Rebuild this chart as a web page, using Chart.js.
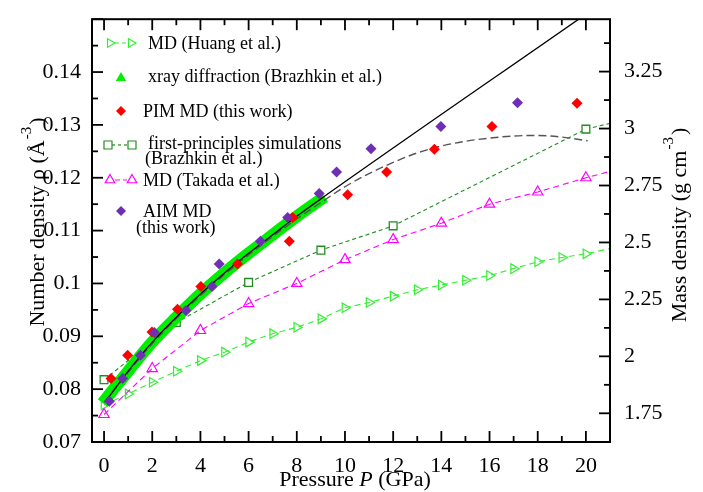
<!DOCTYPE html>
<html>
<head>
<meta charset="utf-8">
<script src="https://cdn.jsdelivr.net/npm/chart.js@4.4.0/dist/chart.umd.min.js"></script>
<style>
  html, body { margin: 0; padding: 0; background: #fff; }
  .fontwarm { position: absolute; left: -999px; top: 0; font-family: "Liberation Serif"; font-size: 22px; }
  .fontwarm i { font-style: italic; }
</style>
</head>
<body>
<span class="fontwarm">Pressure <i>P</i> 0.1</span>
<canvas id="chart" width="703" height="492"></canvas>
<script>
// pressure (GPa) / number density (A^-3)
const huangP = [0,1,2,3,4,5,6,7,8,9,10,11,12,13,14,15,16,17,18,19,20];
const huangRho = [0.0770,0.0791,0.0813,0.0834,0.0854,0.0870,0.0889,0.0905,0.0917,0.0933,0.0954,
  0.0964,0.0976,0.0988,0.0997,0.1006,0.1015,0.1028,0.1041,0.1049,0.1056];
const huangEdge = [21, 0.1066];

const xrayP = [-0.06,1,2,3,4,5,6,7,8,9.15];
const xrayRho = [0.0774,0.0834,0.0889,0.0936,0.0980,0.1020,0.1057,0.1092,0.1127,0.1164];

const pimP = [0.29,0.98,1.99,3.05,4.02,5.54,7.69,7.83,10.11,11.73,13.71,16.1,19.63];
const pimRho = [0.0820,0.0864,0.0908,0.0951,0.0994,0.1037,0.1080,0.1125,0.1168,0.1211,0.1254,0.1297,0.1341];

const fpP = [0,3,6,9,12,20];
const fpRho = [0.0818,0.0926,0.1002,0.1063,0.1109,0.1292];
const fpEdge = [21, 0.1303];

const takadaP = [0,2,4,6,8,10,12,14,16,18,20];
const takadaRho = [0.0752,0.0839,0.0911,0.0962,0.1000,0.1045,0.1083,0.1114,0.1150,0.1173,0.1200];
const takadaEdge = [21, 0.1212];

const aimP = [0.22,0.77,1.51,2.09,3.4,4.48,4.78,6.49,7.62,8.93,9.65,11.08,13.98,17.16];
const aimRho = [0.0777,0.0820,0.0864,0.0907,0.0949,0.0994,0.1037,0.1080,0.1125,0.1170,0.1211,0.1255,0.1297,0.1342];

const fitP = [0.1,1,2,3,4,5,6,7,8,9,19.7];
const fitRho = [0.0779,0.0834,0.0889,0.0936,0.0980,0.1020,0.1057,0.1092,0.1127,0.1160,0.1500];

const eosP = [0,2,4,6,8,9,10,11,12,13,14,15,16,17,18,19,20.07];
const eosRho = [0.0775,0.0886,0.0977,0.1054,0.1122,0.1153,0.1183,0.1208,0.1229,0.1247,0.1260,0.1269,0.1275,0.1279,0.1280,0.1277,0.1270];

const xTicks = [0,1,2,3,4,5,6,7,8,9,10,11,12,13,14,15,16,17,18,19,20,21];
const rhoTicks = [0.07,0.075,0.08,0.085,0.09,0.095,0.1,0.105,0.11,0.115,0.12,0.125,0.13,0.135,0.14,0.145,0.15];
const massTicks = [1.75,1.875,2,2.125,2.25,2.375,2.5,2.625,2.75,2.875,3,3.125,3.25,3.375];
const massFactor = 23.2; // g cm^-3 per A^-3

const pts = (xs, ys, extra) => {
  const d = xs.map((x, i) => ({ x, y: ys[i] }));
  if (extra) d.push({ x: extra[0], y: extra[1] });
  return d;
};

const SERIF = '"Liberation Serif", "Times New Roman", serif';
const C = {
  huang: '#33ee33', xray: '#00ee00', pim: '#ff0000', fp: '#1f8f1f',
  takada: '#ff00ff', aim: '#6f2fb5', fit: '#000000', eos: '#555555'
};
const clear = 'rgba(0,0,0,0)';

function marker(ctx, kind, x, y, r, color, filled) {
  ctx.save();
  ctx.beginPath();
  if (kind === 'tri' || kind === 'triR') {
    const rot = kind === 'triR' ? Math.PI / 2 : 0;
    for (let k = 0; k < 3; k++) {
      const a = rot + k * 2 * Math.PI / 3;
      const px = x + Math.sin(a) * r, py = y - Math.cos(a) * r;
      k ? ctx.lineTo(px, py) : ctx.moveTo(px, py);
    }
    ctx.closePath();
  } else if (kind === 'dia') {
    ctx.moveTo(x - r, y); ctx.lineTo(x, y - r); ctx.lineTo(x + r, y); ctx.lineTo(x, y + r); ctx.closePath();
  } else if (kind === 'sq') {
    ctx.rect(x - r, y - r, 2 * r, 2 * r);
  }
  if (filled) { ctx.fillStyle = color; ctx.fill(); }
  else { ctx.strokeStyle = color; ctx.lineWidth = 1.2; ctx.stroke(); }
  ctx.restore();
}

function dashSeg(ctx, x1, x2, y, color, dash) {
  ctx.save();
  ctx.strokeStyle = color; ctx.lineWidth = 1.2; ctx.setLineDash(dash);
  ctx.beginPath(); ctx.moveTo(x1, y); ctx.lineTo(x2, y); ctx.stroke();
  ctx.restore();
}

const decor = {
  id: 'decor',
  afterDraw(chart) {
    const { ctx, chartArea: a, scales } = chart;
    ctx.save();
    // frame
    ctx.strokeStyle = '#000'; ctx.lineWidth = 2;
    ctx.strokeRect(a.left, a.top, a.right - a.left, a.bottom - a.top);
    ctx.lineWidth = 1.8;
    const seg = (x1, y1, x2, y2) => { ctx.beginPath(); ctx.moveTo(x1, y1); ctx.lineTo(x2, y2); ctx.stroke(); };
    // inward ticks
    scales.x.ticks.forEach(t => {
      const p = scales.x.getPixelForValue(t.value);
      const len = t.value % 2 === 0 ? 11 : 6;
      seg(p, a.bottom, p, a.bottom - len);
      seg(p, a.top, p, a.top + len);
    });
    scales.y.ticks.forEach(t => {
      const p = scales.y.getPixelForValue(t.value);
      const len = Math.round(t.value * 1000) % 10 === 0 ? 11 : 6;
      seg(a.left, p, a.left + len, p);
    });
    scales.y2.ticks.forEach(t => {
      const p = scales.y2.getPixelForValue(t.value);
      const len = Math.round(t.value * 1000) % 250 === 0 ? 11 : 6;
      seg(a.right, p, a.right - len, p);
    });

    // axis titles
    ctx.fillStyle = '#000';
    ctx.textBaseline = 'alphabetic';
    ctx.textAlign = 'left';
    const t1 = 'Pressure ', t3 = ' (GPa)';
    ctx.font = '22px ' + SERIF; const w1 = ctx.measureText(t1).width, w3 = ctx.measureText(t3).width;
    ctx.font = 'italic 22px ' + SERIF; const w2 = ctx.measureText('P').width;
    const x0 = 355 - (w1 + w2 + w3) / 2;
    ctx.font = '22px ' + SERIF; ctx.fillText(t1, x0, 486);
    ctx.font = 'italic 22px ' + SERIF; ctx.fillText('P', x0 + w1, 486);
    ctx.font = '22px ' + SERIF; ctx.fillText(t3, x0 + w1 + w2, 486);

    const vTitle = (cx, cy, main, sup) => {
      ctx.save();
      ctx.translate(cx, cy); ctx.rotate(-Math.PI / 2);
      ctx.font = '22px ' + SERIF; const wm = ctx.measureText(main).width, wc = ctx.measureText(')').width;
      ctx.font = '15px ' + SERIF; const ws = ctx.measureText(sup).width;
      const x = -(wm + ws + wc + 3) / 2;
      ctx.font = '22px ' + SERIF; ctx.fillText(main, x, 8);
      ctx.font = '15px ' + SERIF; ctx.fillText(sup, x + wm + 1, -5);
      ctx.font = '22px ' + SERIF; ctx.fillText(')', x + wm + ws + 3, 8);
      ctx.restore();
    };
    vTitle(36, 222, 'Number density \u03c1 (\u00c5', '-3');
    vTitle(678, 225, 'Mass density (g cm', '-3');

    // legend
    ctx.font = '18px ' + SERIF;
    dashSeg(ctx, 115, 127, 43, C.huang, [4, 3]);
    marker(ctx, 'triR', 110, 43, 5, C.huang, false);
    marker(ctx, 'triR', 131, 43, 5, C.huang, false);
    ctx.fillText('MD (Huang et al.)', 148, 49);

    marker(ctx, 'tri', 121, 78, 6, C.xray, true);
    ctx.fillText('xray diffraction (Brazhkin et al.)', 148, 82);

    marker(ctx, 'dia', 121, 111, 5, C.pim, true);
    ctx.fillText('PIM MD (this work)', 143, 117);

    dashSeg(ctx, 112, 128, 145, C.fp, [3, 3]);
    marker(ctx, 'sq', 108, 145, 4, C.fp, false);
    marker(ctx, 'sq', 132, 145, 4, C.fp, false);
    ctx.fillText('first-principles simulations', 148, 149);
    ctx.fillText('(Brazhkin et al.)', 145, 164);

    dashSeg(ctx, 115, 127, 180, C.takada, [5, 3]);
    marker(ctx, 'tri', 110, 180, 5.5, C.takada, false);
    marker(ctx, 'tri', 132, 180, 5.5, C.takada, false);
    ctx.fillText('MD (Takada et al.)', 143, 186);

    marker(ctx, 'dia', 121, 211, 5, C.aim, true);
    ctx.fillText('AIM MD', 143, 217);
    ctx.fillText('(this work)', 136, 233);
    ctx.restore();
  }
};

function build() {
  new Chart(document.getElementById('chart'), {
    type: 'scatter',
    data: {
      datasets: [
        { label: 'AIM MD (this work)', data: pts(aimP, aimRho), pointStyle: 'rectRot', pointRadius: 5.5,
          backgroundColor: C.aim, borderColor: C.aim, borderWidth: 0, showLine: false },
        { label: 'PIM MD (this work)', data: pts(pimP, pimRho), pointStyle: 'rectRot', pointRadius: 5.5,
          backgroundColor: C.pim, borderColor: C.pim, borderWidth: 0, showLine: false },
        { label: 'fit', data: pts(fitP, fitRho), showLine: true, borderColor: C.fit, borderWidth: 1.3,
          pointRadius: 0, cubicInterpolationMode: 'monotone' },
        { label: 'eos', data: pts(eosP, eosRho), showLine: true, borderColor: C.eos, borderWidth: 1.4,
          borderDash: [8, 4], pointRadius: 0, cubicInterpolationMode: 'monotone' },
        { label: 'xray diffraction (Brazhkin et al.)', data: pts(xrayP, xrayRho), showLine: true,
          borderColor: C.xray, borderWidth: 12, pointRadius: 0, cubicInterpolationMode: 'monotone' },
        { label: 'first-principles simulations (Brazhkin et al.)', data: pts(fpP, fpRho, fpEdge), showLine: true,
          borderColor: C.fp, borderWidth: 1.1, borderDash: [4, 3], pointStyle: 'rect',
          pointRadius: ctx => ctx.dataIndex < fpP.length ? 5.5 : 0,
          backgroundColor: '#fff', pointBorderWidth: 1.3 },
        { label: 'MD (Takada et al.)', data: pts(takadaP, takadaRho, takadaEdge), showLine: true,
          borderColor: C.takada, borderWidth: 1.1, borderDash: [6, 4], pointStyle: 'triangle',
          pointRadius: ctx => ctx.dataIndex < takadaP.length ? 6 : 0,
          backgroundColor: clear, pointBorderWidth: 1.2 },
        { label: 'MD (Huang et al.)', data: pts(huangP, huangRho, huangEdge), showLine: true,
          borderColor: C.huang, borderWidth: 1.1, borderDash: [6, 4], pointStyle: 'triangle', rotation: 90,
          pointRadius: ctx => ctx.dataIndex < huangP.length ? 5.5 : 0,
          backgroundColor: clear, pointBorderWidth: 1.2 }
      ]
    },
    options: {
      responsive: false,
      animation: false,
      layout: { padding: { top: 8, left: 0, right: 0, bottom: 0 } },
      plugins: { legend: { display: false }, tooltip: { enabled: false } },
      scales: {
        x: {
          type: 'linear', min: -0.5, max: 21,
          afterBuildTicks: s => { s.ticks = xTicks.map(v => ({ value: v })); },
          afterFit: s => { s.height = 50; },
          grid: { display: false }, border: { display: false },
          ticks: { autoSkip: false, maxRotation: 0, padding: 3, color: '#000',
            font: { family: SERIF, size: 22 },
            callback: v => (v % 2 === 0 ? String(v) : '') }
        },
        y: {
          type: 'linear', position: 'left', min: 0.07, max: 0.15,
          afterBuildTicks: s => { s.ticks = rhoTicks.map(v => ({ value: v })); },
          afterFit: s => { s.width = 92; },
          grid: { display: false }, border: { display: false },
          ticks: { autoSkip: false, padding: 3, color: '#000',
            font: { family: SERIF, size: 22 },
            callback: v => (Math.round(v * 1000) % 10 === 0 && v < 0.145 ? String(+v.toFixed(2)) : '') }
        },
        y2: {
          type: 'linear', position: 'right', min: 0.07 * massFactor, max: 0.15 * massFactor,
          afterBuildTicks: s => { s.ticks = massTicks.map(v => ({ value: v })); },
          afterFit: s => { s.width = 93; },
          grid: { display: false }, border: { display: false },
          ticks: { autoSkip: false, padding: 6, color: '#000',
            font: { family: SERIF, size: 22 },
            callback: v => (Math.round(v * 1000) % 250 === 0 ? String(+v.toFixed(2)) : '') }
        }
      }
    },
    plugins: [decor]
  });
}

Promise.all([
  document.fonts.load('22px "Liberation Serif"'),
  document.fonts.load('italic 22px "Liberation Serif"')
]).catch(() => {}).then(build);
</script>
</body>
</html>
